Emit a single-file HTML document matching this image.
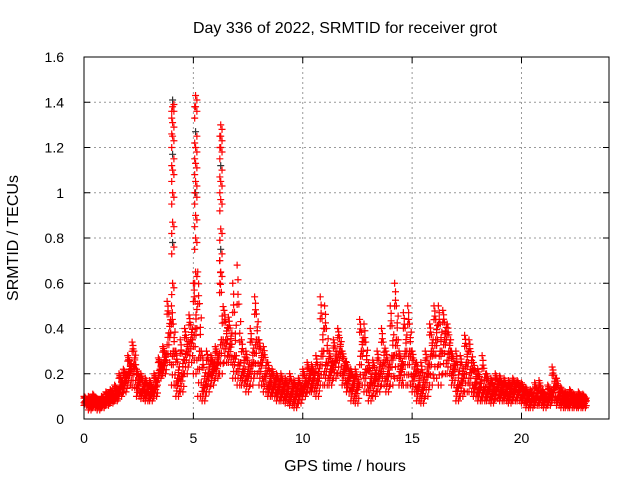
<!DOCTYPE html>
<html><head><meta charset="utf-8"><style>
body{margin:0;background:#fff}
svg{display:block;font-family:"Liberation Sans",sans-serif}
</style></head><body>
<svg id="chart" width="640" height="480">
<text x="345" y="33" text-anchor="middle" font-size="16">Day 336 of 2022, SRMTID for receiver grot</text>
<text x="345" y="471" text-anchor="middle" font-size="16">GPS time / hours</text>
<text transform="translate(18,238) rotate(-90)" text-anchor="middle" font-size="16">SRMTID / TECUs</text>
<g id="grid"></g>
<g id="ticks"></g>
<g id="marks"></g>
<rect x="84" y="57" width="525" height="362" fill="none" stroke="#000" stroke-width="1"/>
</svg>
<script>
const xTicks=[0,5,10,15,20];
const yTicks=[0,0.2,0.4,0.6,0.8,1,1.2,1.4,1.6];
const yTickLabels=["0","0.2","0.4","0.6","0.8","1","1.2","1.4","1.6"];
const times=[0,0.2,0.4,0.6,0.8,1,1.2,1.4,1.6,1.8,2,2.2,2.4,2.6,2.8,3,3.2,3.4,3.6,3.8,4,4.2,4.4,4.6,4.8,5,5.2,5.4,5.6,5.8,6,6.2,6.4,6.6,6.8,7,7.2,7.4,7.6,7.8,8,8.2,8.4,8.6,8.8,9,9.2,9.4,9.6,9.8,10,10.2,10.4,10.6,10.8,11,11.2,11.4,11.6,11.8,12,12.2,12.4,12.6,12.8,13,13.2,13.4,13.6,13.8,14,14.2,14.4,14.6,14.8,15,15.2,15.4,15.6,15.8,16,16.2,16.4,16.6,16.8,17,17.2,17.4,17.6,17.8,18,18.2,18.4,18.6,18.8,19,19.2,19.4,19.6,19.8,20,20.2,20.4,20.6,20.8,21,21.2,21.4,21.6,21.8,22,22.2,22.4,22.6,22.8];
const lowVals=[.06,.04,.05,.04,.05,.06,.07,.08,.10,.12,.15,.14,.10,.09,.08,.08,.10,.18,.20,.25,.15,.10,.12,.20,.25,.20,.10,.08,.12,.15,.18,.20,.25,.25,.18,.15,.15,.12,.15,.20,.15,.12,.10,.10,.08,.08,.07,.06,.05,.07,.10,.12,.12,.10,.15,.15,.15,.18,.20,.15,.12,.08,.07,.15,.12,.08,.10,.12,.15,.12,.15,.18,.15,.15,.15,.12,.08,.07,.10,.15,.18,.15,.20,.20,.15,.08,.10,.12,.12,.10,.08,.08,.08,.07,.09,.08,.08,.07,.08,.08,.07,.05,.05,.06,.06,.05,.06,.08,.06,.05,.05,.05,.05,.05,.05];
const midVals=[.08,.07,.08,.07,.08,.09,.10,.11,.15,.17,.22,.24,.16,.13,.12,.12,.15,.22,.26,.38,.30,.18,.20,.30,.35,.40,.30,.15,.20,.22,.25,.35,.35,.33,.28,.25,.22,.20,.25,.35,.25,.20,.16,.15,.14,.13,.12,.12,.11,.12,.15,.18,.18,.18,.30,.25,.22,.26,.30,.22,.18,.15,.14,.30,.22,.16,.18,.20,.25,.20,.28,.35,.22,.30,.30,.20,.15,.14,.20,.30,.35,.30,.35,.30,.22,.15,.18,.25,.22,.16,.14,.14,.13,.12,.14,.13,.12,.12,.13,.13,.11,.09,.09,.10,.10,.09,.10,.14,.10,.09,.08,.09,.08,.08,.08];
const highVals=[.10,.10,.11,.09,.10,.12,.13,.15,.20,.22,.28,.34,.22,.20,.18,.17,.20,.27,.32,.52,.50,.30,.35,.40,.46,.60,.65,.28,.30,.28,.32,.70,.48,.45,.60,.68,.35,.30,.40,.54,.35,.32,.25,.22,.20,.20,.18,.20,.17,.18,.22,.25,.24,.28,.54,.50,.30,.35,.40,.30,.25,.22,.22,.44,.42,.25,.26,.30,.40,.30,.50,.60,.30,.47,.50,.30,.25,.25,.30,.42,.50,.50,.48,.42,.30,.30,.28,.37,.35,.25,.22,.28,.20,.18,.20,.19,.18,.17,.18,.17,.16,.14,.13,.16,.17,.12,.15,.23,.18,.14,.12,.13,.11,.12,.11];
const spikeTimes=[4.05,4.05,4.05,4.05,4.05,4.05,4.05,4.05,4.05,4.05,5.1,5.1,5.1,5.1,5.1,5.1,5.1,5.1,5.1,5.1,6.25,6.25,6.25,6.25,6.25,6.25,6.25,6.25,6.25];
const spikeVals=[.6,.78,.87,1.0,1.1,1.17,1.25,1.31,1.38,1.41,.65,.8,.9,1.0,1.05,1.13,1.2,1.27,1.38,1.43,.65,.75,.84,.97,1.05,1.12,1.2,1.25,1.3];
const NS="http://www.w3.org/2000/svg";
const X0=84,X1=609,Y0=419,Y1=57;
function xs(t){return X0+(X1-X0)*t/24;}
function ys(v){return Y0-(Y0-Y1)*v/1.6;}
const grid=document.getElementById('grid'),ticks=document.getElementById('ticks'),marks=document.getElementById('marks');
function ln(p,x1,y1,x2,y2,st,da){const l=document.createElementNS(NS,'line');l.setAttribute('x1',x1);l.setAttribute('y1',y1);l.setAttribute('x2',x2);l.setAttribute('y2',y2);l.setAttribute('stroke',st);if(da)l.setAttribute('stroke-dasharray',da);p.appendChild(l);return l;}
xTicks.forEach(t=>{const x=xs(t);
 const g=ln(grid,x,Y0,x,Y1,'#999','2,3');
 
 
 ln(ticks,x,Y0,x,Y0-6,'#000');ln(ticks,x,Y1,x,Y1+6,'#000');
 const tx=document.createElementNS(NS,'text');tx.setAttribute('x',x);tx.setAttribute('y',Y0+24);tx.setAttribute('text-anchor','middle');tx.setAttribute('font-size','14');tx.textContent=t;
 
 
 ticks.appendChild(tx);});
yTicks.forEach((v,i)=>{const y=ys(v);
 const g=ln(grid,X0,y,X1,y,'#999','2,3');
 
 
 ln(ticks,X0,y,X0+6,y,'#000');ln(ticks,X1,y,X1-6,y,'#000');
 const tx=document.createElementNS(NS,'text');tx.setAttribute('x',64);tx.setAttribute('y',y+5);tx.setAttribute('text-anchor','end');tx.setAttribute('font-size','14');tx.textContent=yTickLabels[i];
 
 
 ticks.appendChild(tx);});
function plus(t,v,c){const x=xs(t),y=ys(v);const p=document.createElementNS(NS,'path');
 p.setAttribute('d','M'+(x-3.5)+' '+y+'H'+(x+3.5)+'M'+x+' '+(y-3.5)+'V'+(y+3.5));p.setAttribute('stroke',c);p.setAttribute('stroke-width','1.2');p.setAttribute('fill','none');
 
 
 marks.appendChild(p);}
const fr=[0,0.3,0.6,0.85,1];
times.forEach((t,i)=>{
 const lo=lowVals[i],md=midVals[i],hi=highVals[i];
 for(let j=0;j<5;j++){
  const dt=0.04*j;
  plus(t+dt,lo+(md-lo)*fr[j],'#f00');
  plus(t+dt,md+(hi-md)*fr[4-j],'#f00');
  plus(t+dt,lo+(md-lo)*fr[(j+2)%5],'#f00');
  plus(t+dt,md+(hi-md)*fr[(j+3)%5]*0.7,'#f00');
 }
});
spikeTimes.forEach((t,i)=>{plus(t,spikeVals[i],i%4==1?'#333':'#f00');plus(t+0.06,spikeVals[i]-0.02,'#f00');plus(t-0.04,spikeVals[i]-0.05,'#f00');});
</script>
</body></html>
